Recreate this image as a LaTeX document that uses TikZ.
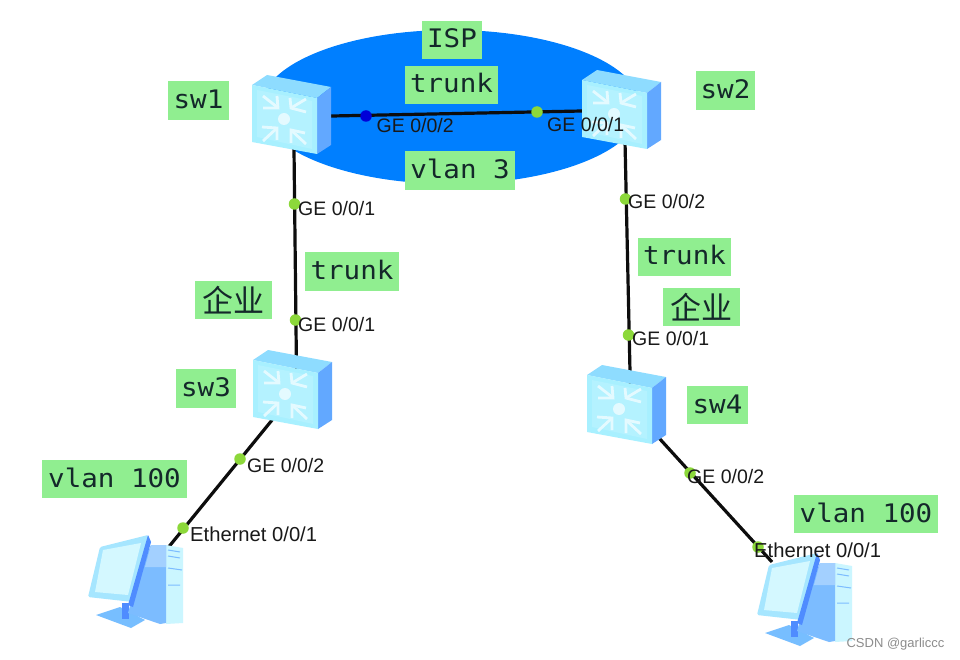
\documentclass[tikz,border=0pt]{standalone}
\usepackage{fontspec}
\setmainfont{Liberation Sans}
\newfontfamily\lblfont[FakeStretch=1.08]{DejaVu Sans Mono}
\newfontfamily\cjkfont{Noto Sans CJK SC}
\usetikzlibrary{calc,shapes.geometric}
\definecolor{lblgreen}{HTML}{90EE90}
\definecolor{ispblue}{HTML}{007FFF}
\definecolor{dotgreen}{HTML}{8CD83A}
\definecolor{facecyan}{HTML}{A8F0FF}
\definecolor{faceinner}{HTML}{B4F2FF}
\definecolor{topcyan}{HTML}{8EDCFF}
\definecolor{sideblue}{HTML}{62A8FF}
\definecolor{arrowwhite}{HTML}{E4FAFF}
\definecolor{midblue}{HTML}{7CBCFF}
\definecolor{darkblue}{HTML}{4F8CFF}
\definecolor{screencyan}{HTML}{D4F8FF}
\definecolor{monitorcyan}{HTML}{A6E6FF}
\definecolor{inkdark}{HTML}{14282A}
\tikzset{
  x=1pt,y=-1pt,
  device/.style={inner sep=0pt,minimum width=80pt,minimum height=78pt},
  link/.style={draw=black!95,line width=3.2pt},
  portdot/.style={circle,fill=dotgreen,inner sep=0pt,minimum size=11.5pt},
  portblue/.style={portdot,fill=blue!85!black},
  portlabel/.style={anchor=west,inner sep=0pt,text height=14pt,text depth=0pt,font=\fontsize{19.5}{20}\selectfont,text=black!90},
  ethlabel/.style={portlabel,font=\fontsize{20.2}{21}\selectfont},
  tag/.style={fill=lblgreen,inner sep=0pt,minimum height=38.5pt,text height=22pt,text depth=6pt,text=inkdark,font=\fontsize{25.5}{28}\lblfont},
  cntag/.style={fill=lblgreen,inner sep=0pt,minimum height=38.5pt,minimum width=77pt,text=inkdark,font=\fontsize{31}{33}\cjkfont},
  arrowstroke/.style={draw=arrowwhite,line width=2.8pt,line join=miter},
  pics/switchicon/.style={code={
    \begin{scope}[shift={(-40,-39)}]
      \fill[topcyan] (0,10) -- (15,0) -- (79,12) -- (65,23) -- cycle;
      \fill[sideblue] (65,23) -- (79,12) -- (79,70) -- (65,79) -- cycle;
      \fill[facecyan] (0,10) -- (65,23) -- (65,79) -- (0,67) -- cycle;
      \fill[faceinner] (5,15) -- (60,26) -- (60,74) -- (5,62) -- cycle;
      \draw[arrowstroke] (11,21) -- (25,32);
      \draw[arrowstroke] (11,33) -- (26,33) -- (25,21);
      \draw[arrowstroke] (54,24) -- (39,33);
      \draw[arrowstroke] (38,23) -- (39,33) -- (54,37);
      \draw[arrowstroke] (11,66) -- (25,53);
      \draw[arrowstroke] (10,52) -- (25,53) -- (25,65);
      \draw[arrowstroke] (54,69) -- (39,55);
      \draw[arrowstroke] (39,68) -- (39,55) -- (53,58);
      \fill[arrowwhite] (32,44) circle[radius=6];
    \end{scope}
  }},
  pics/pcicon/.style={code={
    \begin{scope}[shift={(-47.5,-46)}]
      \fill[sideblue!70!facecyan] (8,80) -- (32,72) -- (57,85) -- (43,93) -- cycle;
      \fill[darkblue] (34,68) -- (41,68) -- (41,84) -- (34,84) -- cycle;
      \fill[facecyan!60!white] (78,10) -- (95,13) -- (95,88) -- (78,89) -- cycle;
      \fill[midblue] (63,10) -- (78,10) -- (78,88) -- (72,89) -- (40,78) -- (53,32) -- cycle;
      \fill[midblue!70!white] (63,10) -- (78,10) -- (78,32) -- (57,32) -- cycle;
      \fill[monitorcyan,rounded corners=1.5pt] (12,12) -- (60,0) -- (63,7) -- (45,67) -- (0,62) -- cycle;
      \fill[darkblue] (60,0) -- (63,7) -- (45,72) -- (40,70) -- cycle;
      \fill[screencyan] (15,15) -- (53,8) -- (40,60) -- (7,57) -- cycle;
      \draw[midblue,line width=1pt] (80,15) -- (92,17) (80,21) -- (92,23) (80,33) -- (94,35) (80,50) -- (92,50);
    \end{scope}
  }}
}
\begin{document}
\begin{tikzpicture}
\path[use as bounding box,fill=white] (0,0) rectangle (960,660);

% ISP ellipse
\node[ellipse,fill=ispblue,inner sep=0pt,minimum width=380pt,minimum height=154pt] (isp) at (451,107) {};

% device anchors
\node[device] (sw1) at (292,114) {};
\node[device] (sw2) at (622,109) {};
\node[device] (sw3) at (293,389) {};
\node[device] (sw4) at (627,404) {};
\node[device] (pc1) at (135.5,581) {};
\node[device] (pc2) at (804.5,599) {};

% connectors that stay behind the devices
\draw[link] ($(sw1)+(0,2.8)$) -- ($(sw2)+(0,1.2)$);
\draw[link] ($(sw1)+(1.6,0)$) -- ($(sw3)+(3.7,0)$);
\draw[link] ($(sw2)+(2.3,0)$) -- ($(sw4)+(3.7,0)$);
\draw[link] ($(sw3)+(4.3,0)$) -- ($(pc1)+(5.5,0)$);

% devices
\pic at (pc1) {pcicon};
\pic at (pc2) {pcicon};
\draw[link] ($(sw4)+(1,0)$) -- ($(pc2)+(-32.5,-37)$);
\pic at (sw1) {switchicon};
\pic at (sw2) {switchicon};
\pic at (sw3) {switchicon};
\pic at (sw4) {switchicon};

% port dots
\node[portblue] (d1) at (366,116) {};
\node[portdot] (d2) at (537,112) {};
\node[portdot] (d3) at (294.5,204) {};
\node[portdot] (d4) at (295.5,320) {};
\node[portdot] (d5) at (625.5,199) {};
\node[portdot] (d6) at (628.5,335) {};
\node[portdot] (d7) at (240,459) {};
\node[portdot] (d8) at (183,528) {};
\node[portdot] (d9) at (690,473) {};
\node[portdot] (d10) at (758,547) {};

% port labels
\node[portlabel] (l1) at (376.5,126) {GE 0/0/2};
\node[portlabel] (l2) at (547,124.5) {GE 0/0/1};
\node[portlabel] (l3) at (298,209) {GE 0/0/1};
\node[portlabel] (l4) at (298,324) {GE 0/0/1};
\node[portlabel] (l5) at (628,202) {GE 0/0/2};
\node[portlabel] (l6) at (632,338) {GE 0/0/1};
\node[portlabel] (l7) at (247,465) {GE 0/0/2};
\node[ethlabel] (l8) at (190,534) {Ethernet 0/0/1};
\node[portlabel] (l9) at (687,476) {GE 0/0/2};
\node[ethlabel] (l10) at (754,550) {Ethernet 0/0/1};

% green tags
\node[tag,minimum width=60pt] (t1) at (452,40) {ISP};
\node[tag,minimum width=93pt] (t2) at (451.5,85) {trunk};
\node[tag,minimum width=110pt] (t3) at (460,170.5) {vlan 3};
\node[tag,minimum width=61pt] (t4) at (198.5,100.5) {sw1};
\node[tag,minimum width=59pt] (t5) at (725.5,90.5) {sw2};
\node[tag,minimum width=94pt] (t6) at (352,271.5) {trunk};
\node[cntag] (t7) at (233.5,300) {企业};
\node[tag,minimum width=60pt] (t8) at (206,388.5) {sw3};
\node[tag,minimum width=145pt] (t9) at (114.5,479) {vlan 100};
\node[tag,minimum width=93pt] (t10) at (684.5,257) {trunk};
\node[cntag] (t11) at (701.5,307) {企业};
\node[tag,minimum width=61pt] (t12) at (717.5,405) {sw4};
\node[tag,minimum width=144pt] (t13) at (866,514) {vlan 100};

% watermark
\node[anchor=east,inner sep=0pt,text=black!45,font=\fontsize{13}{15}\selectfont] (wm) at (944.5,644) {CSDN @garliccc};
\end{tikzpicture}
\end{document}
